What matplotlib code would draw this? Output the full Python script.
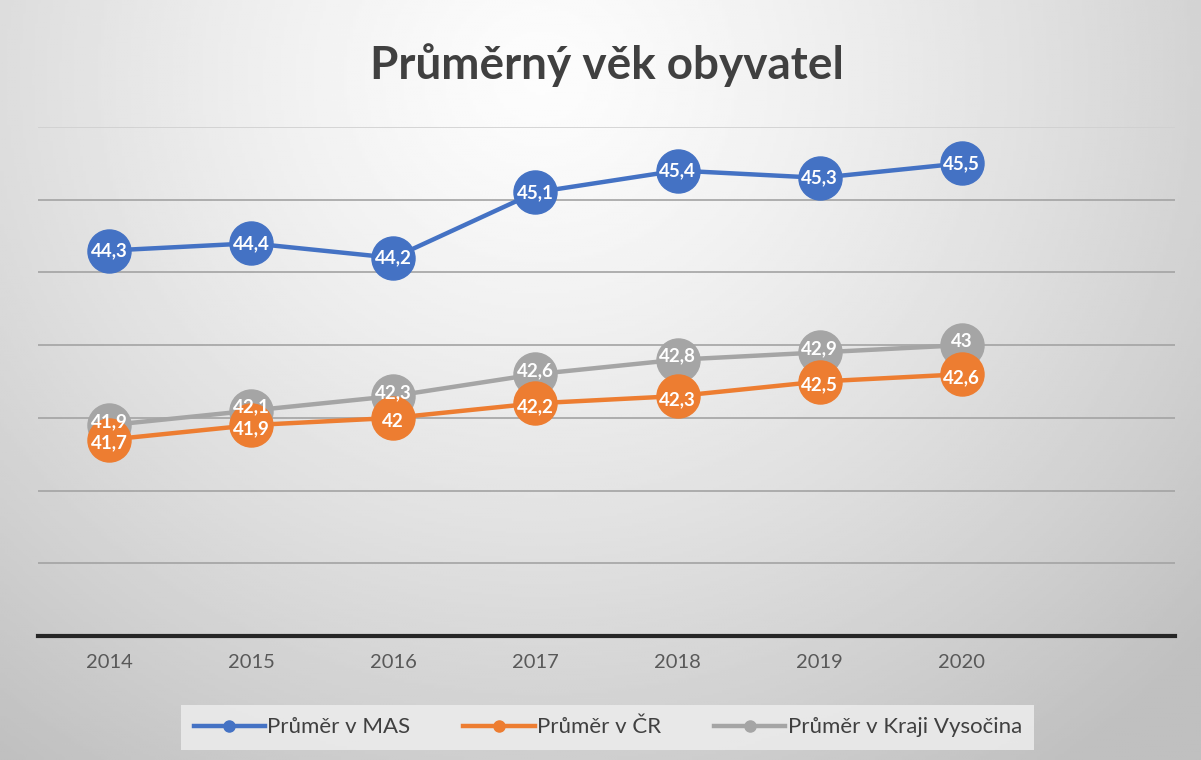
import matplotlib
matplotlib.use("Agg")
import matplotlib.pyplot as plt
import numpy as np

# data
years = ['2014', '2015', '2016', '2017', '2018', '2019', '2020']
mas = [44.3, 44.4, 44.2, 45.1, 45.4, 45.3, 45.5]
cr = [41.7, 41.9, 42.0, 42.2, 42.3, 42.5, 42.6]
vysocina = [41.9, 42.1, 42.3, 42.6, 42.8, 42.9, 43.0]
names = ['Průměr v MAS', 'Průměr v ČR', 'Průměr v Kraji Vysočina']
colors = ['#4472C4', '#ED7D31', '#A5A5A5']

plt.rcParams['font.family'] = ['Lato', 'DejaVu Sans']

fig = plt.figure(figsize=(12.01, 7.6), dpi=100)

# background gradient (light in upper middle, grey towards edges)
bg = fig.add_axes([0, 0, 1, 1], zorder=-10)
xx, yy = np.meshgrid(np.linspace(0, 1, 400), np.linspace(0, 1, 300))
d = np.sqrt(((xx - 0.45) / 0.7) ** 2 + ((yy - 0.1) / 1.05) ** 2)
shade = np.clip(0.99 - 0.22 * d ** 1.3, 0.75, 0.99)
bg.imshow(shade, cmap='gray', vmin=0, vmax=1, extent=[0, 1, 1, 0], aspect='auto')
bg.set_xlim(0, 1)
bg.set_ylim(1, 0)
bg.axis('off')

ax = fig.add_axes([0.0316, 0.163, 0.9468, 0.670])
ax.set_facecolor('none')
x = np.arange(len(years))

def fmt(v):
    s = ('%.1f' % v).rstrip('0').rstrip('.')
    return s.replace('.', ',')

# (values, name, colour, zorder, label nudge in points)
series = [(vysocina, names[2], colors[2], 3, 2.5),
          (cr, names[1], colors[1], 4, -2.5),
          (mas, names[0], colors[0], 5, 0)]
for vals, name, c, z, dy in series:
    ax.plot(x, vals, color=c, lw=3.2, marker='o', ms=31, mec=c, label=name, zorder=z)
    for xi, v in zip(x, vals):
        ax.annotate(fmt(v), (xi, v), xytext=(0, dy), textcoords='offset points',
                    color='white', ha='center', va='center',
                    fontsize=13.5, fontweight='bold', zorder=10)

ax.set_xlim(-0.5, 7.5)
ax.set_ylim(39, 46)
ax.set_yticks(np.arange(39, 47, 1))
ax.yaxis.grid(True, color='#a3a3a3', lw=1.2)
ax.get_ygridlines()[-1].set_color('#cfcfcf')
ax.set_axisbelow(True)
ax.tick_params(axis='y', left=False, labelleft=False)
ax.set_xticks(x)
ax.set_xticklabels(years, fontsize=14.5, color='#595959')
ax.tick_params(axis='x', length=0, pad=13)
for s in ['top', 'right', 'left']:
    ax.spines[s].set_visible(False)
ax.spines['bottom'].set_color('#262626')
ax.spines['bottom'].set_linewidth(3)

fig.text(0.505, 0.914, 'Průměrný věk obyvatel', ha='center', va='center',
         fontsize=33, fontweight='bold', color='#404040')

# legend with small markers
handles = [plt.Line2D([], [], color=c, lw=3.2, marker='o', ms=8) for c in colors]
leg = fig.legend(handles, names, loc='center', bbox_to_anchor=(0.506, 0.043), ncol=3,
                 frameon=True, fontsize=16, handlelength=3.2, handletextpad=0.1,
                 columnspacing=2.4, fancybox=False, borderpad=0.55, borderaxespad=0)
leg.get_frame().set_facecolor('#ebebeb')
leg.get_frame().set_edgecolor('none')
leg.get_frame().set_alpha(0.9)
for t in leg.get_texts():
    t.set_color('#404040')

fig.savefig('out.png', dpi=100)
